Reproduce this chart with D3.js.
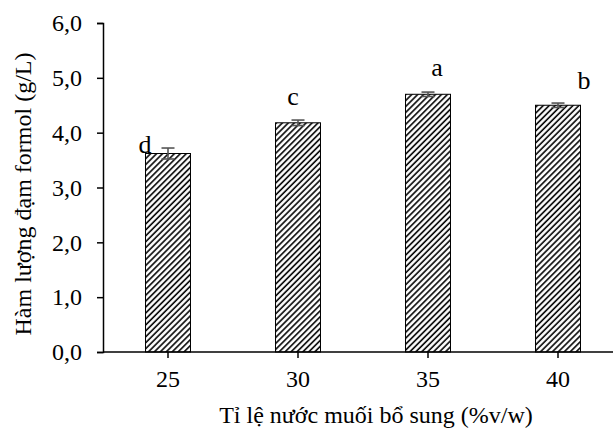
<!DOCTYPE html>
<html>
<head>
<meta charset="utf-8">
<script src="https://cdn.jsdelivr.net/npm/d3@7"></script>
<style>
  body { margin: 0; background: #fff; }
  svg text { font-family: "Liberation Serif", "Times New Roman", serif; fill: #000; }
</style>
</head>
<body>
<div id="chart"></div>
<script>
// salt-water ratio (%v/w) vs formol nitrogen (g/L)
var categories = ["25", "30", "35", "40"];
var values = [3.62, 4.18, 4.70, 4.50];
var errors = [0.10, 0.05, 0.04, 0.04];
var letters = ["d", "c", "a", "b"];
var yTicks = [0, 1, 2, 3, 4, 5, 6];

// hand placed letter offsets (px) from the bar centre / error bar top
var letterNudge = [[-23, 5], [-5, -15], [9, -16], [26, -14]];

var width = 615, height = 431;
var plotLeft = 103, plotBottom = 352, plotTop = 23;

var svg = d3.select("#chart").append("svg")
    .attr("width", width)
    .attr("height", height);

var defs = svg.append("defs");
var pat = defs.append("pattern")
    .attr("id", "hatch")
    .attr("patternUnits", "userSpaceOnUse")
    .attr("width", 4.2)
    .attr("height", 4.2)
    .attr("patternTransform", "rotate(45)");
pat.append("rect").attr("width", 4.2).attr("height", 4.2).attr("fill", "#fff");
pat.append("line")
    .attr("x1", 1).attr("y1", 0).attr("x2", 1).attr("y2", 4.2)
    .attr("stroke", "#000")
    .attr("stroke-width", 1.6);

var x = d3.scaleBand()
    .domain(categories)
    .range([plotLeft, plotLeft + 520])
    .paddingInner(0.654)
    .paddingOuter(0.327);

var y = d3.scaleLinear()
    .domain([0, 6])
    .range([plotBottom, plotTop]);

// bars
svg.selectAll(".bar")
    .data(values)
    .enter().append("rect")
    .attr("class", "bar")
    .attr("x", function (d, i) { return x(categories[i]); })
    .attr("y", function (d) { return y(d); })
    .attr("width", x.bandwidth())
    .attr("height", function (d) { return y(0) - y(d); })
    .attr("fill", "url(#hatch)")
    .attr("stroke", "#000")
    .attr("stroke-width", 1);

// error bars
var eb = svg.selectAll(".err")
    .data(values)
    .enter().append("g")
    .attr("class", "err")
    .attr("stroke", "#555")
    .attr("stroke-width", 1.6);
eb.append("line")
    .attr("x1", function (d, i) { return x(categories[i]) + x.bandwidth() / 2; })
    .attr("x2", function (d, i) { return x(categories[i]) + x.bandwidth() / 2; })
    .attr("y1", function (d, i) { return y(d + errors[i]); })
    .attr("y2", function (d, i) { return y(d - errors[i]); });
eb.append("line")
    .attr("x1", function (d, i) { return x(categories[i]) + x.bandwidth() / 2 - 6.5; })
    .attr("x2", function (d, i) { return x(categories[i]) + x.bandwidth() / 2 + 6.5; })
    .attr("y1", function (d, i) { return y(d + errors[i]); })
    .attr("y2", function (d, i) { return y(d + errors[i]); });
eb.append("line")
    .attr("x1", function (d, i) { return x(categories[i]) + x.bandwidth() / 2 - 6.5; })
    .attr("x2", function (d, i) { return x(categories[i]) + x.bandwidth() / 2 + 6.5; })
    .attr("y1", function (d, i) { return y(d - errors[i]); })
    .attr("y2", function (d, i) { return y(d - errors[i]); });

// significance letters
svg.selectAll(".letter")
    .data(values)
    .enter().append("text")
    .attr("class", "letter")
    .attr("x", function (d, i) { return x(categories[i]) + x.bandwidth() / 2 + letterNudge[i][0]; })
    .attr("y", function (d, i) { return y(d + errors[i]) + letterNudge[i][1]; })
    .attr("text-anchor", "middle")
    .attr("font-size", 26)
    .text(function (d, i) { return letters[i]; });

// axes
var yAxis = d3.axisLeft(y)
    .tickValues(yTicks)
    .tickSizeOuter(0)
    .tickSize(6)
    .tickPadding(15)
    .tickFormat(function (d) { return d3.format(".1f")(d).replace(".", ","); });

var gy = svg.append("g")
    .attr("transform", "translate(" + plotLeft + ",0)")
    .call(yAxis);

var xAxis = d3.axisBottom(x)
    .tickSizeOuter(0)
    .tickSize(6)
    .tickPadding(12);

var gx = svg.append("g")
    .attr("transform", "translate(0," + plotBottom + ")")
    .call(xAxis);
gx.select(".domain").attr("d", "M" + plotLeft + ",0H613");

svg.selectAll(".domain, .tick line")
    .attr("stroke", "#000")
    .attr("stroke-width", 1.5);
svg.selectAll(".tick text")
    .attr("font-size", 24)
    .attr("font-family", "Liberation Serif, Times New Roman, serif")
    .attr("fill", "#000");

// axis titles
svg.append("text")
    .attr("transform", "translate(31,194) rotate(-90)")
    .attr("text-anchor", "middle")
    .attr("font-size", 24)
    .text("Hàm lượng đạm formol (g/L)");

svg.append("text")
    .attr("x", 376)
    .attr("y", 423)
    .attr("text-anchor", "middle")
    .attr("font-size", 24)
    .text("Tỉ lệ nước muối bổ sung (%v/w)");
</script>
</body>
</html>
